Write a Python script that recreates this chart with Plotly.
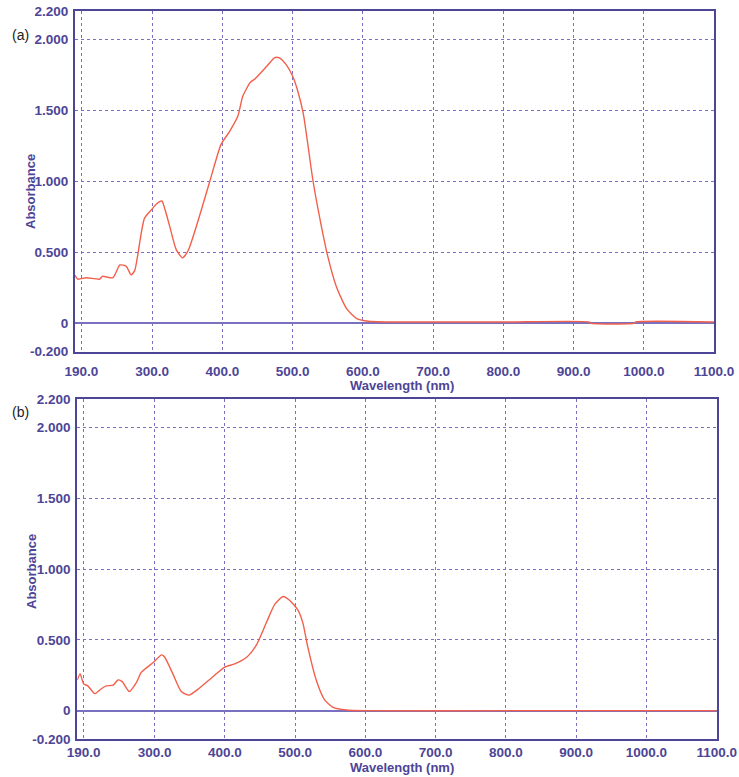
import plotly.graph_objects as go

# ---- data ----
wl_a = [190, 194, 206, 225, 229, 244, 254, 263, 270, 275, 279, 289, 299, 306, 312, 314,
        325, 334, 343, 351, 367, 382, 398, 410, 422, 429, 440, 446, 463, 474, 481, 491,
        500, 507, 515, 529, 539, 550, 562, 577, 592, 605, 620, 700, 800, 923, 924, 987, 988, 1100]
abs_a = [0.337, 0.31, 0.32, 0.31, 0.33, 0.32, 0.41, 0.40, 0.34, 0.37, 0.47, 0.74, 0.80, 0.84, 0.86, 0.86,
         0.68, 0.52, 0.46, 0.51, 0.75, 1.00, 1.26, 1.35, 1.46, 1.60, 1.70, 1.72, 1.81, 1.87, 1.87, 1.82,
         1.74, 1.64, 1.48, 1.00, 0.73, 0.47, 0.26, 0.10, 0.03, 0.015, 0.01, 0.008, 0.008, 0.008, 0.0, 0.0, 0.008, 0.008]

wl_b = [190, 194, 199, 205, 215, 222, 231, 241, 248, 254, 264, 274, 281, 298, 310, 314,
        326, 338, 349, 364, 383, 400, 414, 431, 445, 459, 471, 483, 492, 504, 511, 518,
        530, 542, 554, 573, 600, 800, 1100]
abs_b = [0.217, 0.26, 0.19, 0.175, 0.12, 0.146, 0.175, 0.18, 0.217, 0.205, 0.135, 0.198, 0.27, 0.34, 0.394, 0.38,
         0.26, 0.135, 0.11, 0.16, 0.24, 0.307, 0.33, 0.377, 0.465, 0.62, 0.75, 0.806, 0.78, 0.71, 0.62, 0.45,
         0.217, 0.076, 0.024, 0.005, 0.0, 0.0, 0.0]

x_tickvals = [199, 300, 400, 500, 600, 700, 800, 900, 1000, 1100]
x_ticktext = ["190.0", "300.0", "400.0", "500.0", "600.0", "700.0", "800.0", "900.0", "1000.0", "1100.0"]
y_tickvals = [-0.2, 0, 0.5, 1.0, 1.5, 2.0, 2.2]
y_ticktext = ["-0.200", "0", "0.500", "1.000", "1.500", "2.000", "2.200"]

W, H = 739, 777
AXC = "#4d4596"
GRIDC = "#7a70c0"
CURVE = "#f2604c"
FONT = "Liberation Sans"

fig = go.Figure()
fig.add_trace(go.Scatter(x=wl_a, y=abs_a, mode="lines", xaxis="x", yaxis="y",
                         line=dict(color=CURVE, width=1.4, shape="spline", smoothing=0.6),
                         showlegend=False))
fig.add_trace(go.Scatter(x=wl_b, y=abs_b, mode="lines", xaxis="x2", yaxis="y2",
                         line=dict(color=CURVE, width=1.4, shape="spline", smoothing=0.6),
                         showlegend=False))

def xax(dom, anchor, standoff):
    return dict(domain=dom, anchor=anchor, range=[190, 1100], tickvals=x_tickvals, ticktext=x_ticktext,
                showgrid=True, gridcolor=GRIDC, griddash="dot", gridwidth=1,
                showline=True, linecolor=AXC, linewidth=2, mirror=True, zeroline=False,
                ticks="", ticklabelstandoff=standoff, automargin=False,
                tickfont=dict(family=FONT, size=13.5, color=AXC, weight="bold"))

def yax(dom, anchor):
    return dict(domain=dom, anchor=anchor, range=[-0.2, 2.2], tickvals=y_tickvals, ticktext=y_ticktext,
                showgrid=True, gridcolor=GRIDC, griddash="dot", gridwidth=1,
                showline=True, linecolor=AXC, linewidth=2, mirror=True,
                zeroline=True, zerolinecolor=GRIDC, zerolinewidth=1.5,
                ticks="", ticklabelstandoff=2, automargin=False,
                tickfont=dict(family=FONT, size=13.5, color=AXC, weight="bold"))

fig.update_layout(
    width=W, height=H, margin=dict(l=0, r=0, t=0, b=0, autoexpand=False),
    paper_bgcolor="white", plot_bgcolor="white",
    xaxis=xax([75 / W, 714 / W], "y", 6),
    yaxis=yax([1 - 351.5 / H, 1 - 11 / H], "x"),
    xaxis2=xax([77.3 / W, 716.7 / W], "y2", 0),
    yaxis2=yax([1 - 739 / H, 1 - 399 / H], "x2"),
)

def a(text, x, y, size, color, weight="normal", angle=0):
    return dict(text=text, x=x / W, y=1 - y / H, xref="paper", yref="paper", showarrow=False,
                xanchor="center", yanchor="middle", textangle=angle,
                font=dict(family=FONT, size=size, color=color, weight=weight))

ann = [a("(a)", 20, 35, 14, "#222222"), a("(b)", 20, 412, 14, "#222222")]
for yc in [192, 572]:
    ann.append(a("Absorbance", 31, yc, 13, AXC, "bold", -90))
for yc in [385, 767]:
    ann.append(a("Wavelength (nm)", 402, yc, 13, AXC, "bold"))
fig.update_layout(annotations=ann)

fig.write_html("out.html")
